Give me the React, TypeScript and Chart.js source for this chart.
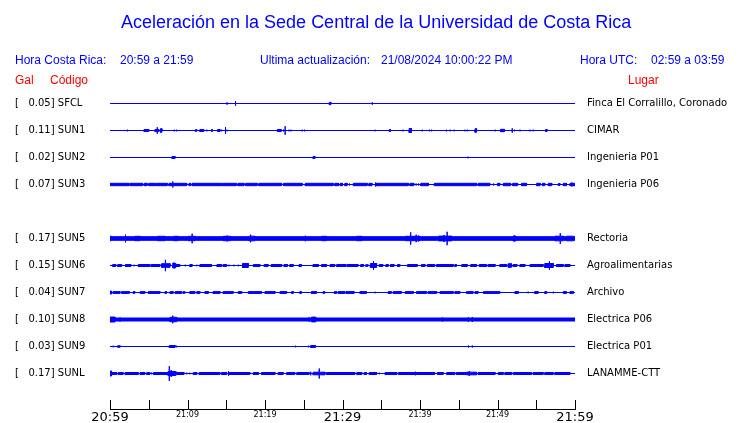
import React, { useEffect, useRef } from 'react';
import { Chart, registerables } from 'chart.js';

Chart.register(...registerables);

const TITLE = 'Aceleración en la Sede Central de la Universidad de Costa Rica';
const LOCAL_LABEL = 'Hora Costa Rica:';
const LOCAL_RANGE = '20:59 a 21:59';
const UPDATE_LABEL = 'Ultima actualización:';
const UPDATE_TIME = '21/08/2024 10:00:22 PM';
const UTC_LABEL = 'Hora UTC:';
const UTC_RANGE = '02:59 a 03:59';
const GAL_HEAD = 'Gal';
const CODE_HEAD = 'Código';
const PLACE_HEAD = 'Lugar';

const STATIONS = ['SFCL', 'SUN1', 'SUN2', 'SUN3', 'SUN4', 'SUN5', 'SUN6', 'SUN7', 'SUN8', 'SUN9', 'SUNL'];
const PLACES = ['Finca El Corralillo, Coronado', 'CIMAR', 'Ingenieria P01', 'Ingenieria P06', '', 'Rectoria', 'Agroalimentarias', 'Archivo', 'Electrica P06', 'Electrica P01', 'LANAMME-CTT'];
const PEAK_GAL: (number | null)[] = [0.05, 0.11, 0.02, 0.07, null, 0.17, 0.15, 0.04, 0.10, 0.03, 0.17];
// background noise half-amplitude of each trace (display counts)
const NOISE: (number | null)[] = [0, 0, 0, 0, null, 1.8, 0, 0, 1.5, 0, 0];

// minutes after 20:59
const TIME_TICKS = [0, 5, 10, 15, 20, 25, 30, 35, 40, 45, 50, 55, 60];
const TIME_LABELS = ['20:59', '', '21:09', '', '21:19', '', '21:29', '', '21:39', '', '21:49', '', '21:59'];
const MAJOR_TICKS = [0, 30, 60];

// bursts: [start minute, end minute, half amplitude]
const SFCL: number[][] = [[15.1, 15.1, 1.2], [16.2, 16.2, 2.2], [28.3, 28.5, 1.2], [33.85, 33.85, 1.2]];
const SUN1: number[][] = [[2.24, 2.24, 0.8], [4.4, 5.0, 1.0], [5.8, 6.3, 1.0], [6.1, 6.1, 3.3], [6.5, 6.7, 1.8], [8.3, 8.3, 0.8], [8.6, 8.6, 0.8], [9.8, 9.8, 0.5], [11.0, 11.2, 0.8], [11.6, 12.1, 1.0], [12.5, 12.5, 0.8], [13.1, 13.2, 1.0], [13.9, 14.2, 1.0], [14.4, 14.4, 0.8], [14.9, 14.9, 3.3], [15.1, 15.1, 0.8], [21.6, 22.1, 1.0], [22.4, 22.4, 1.0], [22.6, 22.6, 4.3], [23.1, 23.1, 0.8], [23.35, 23.35, 0.8], [24.8, 24.8, 0.8], [25.1, 25.1, 0.8], [26.6, 26.6, 0.5], [32.6, 32.6, 0.5], [33.1, 33.1, 0.5], [34.2, 34.2, 0.8], [36.05, 36.2, 1.0], [37.1, 37.1, 0.5], [37.8, 37.8, 0.8], [38.6, 38.9, 2.0], [40.3, 40.3, 0.8], [41.2, 41.2, 0.8], [41.5, 41.5, 0.8], [43.4, 43.4, 0.8], [43.9, 43.9, 0.8], [44.4, 44.4, 0.8], [45.8, 45.8, 0.8], [46.1, 46.1, 0.8], [47.1, 47.3, 1.8], [49.7, 49.7, 0.8], [50.4, 50.9, 1.2], [51.9, 51.9, 2.2], [52.2, 52.2, 0.8], [52.9, 52.9, 0.8], [54.2, 54.2, 0.8], [54.6, 54.6, 0.8], [56.2, 56.4, 1.0], [57.2, 57.2, 0.5]];
const SUN2: number[][] = [[0.4, 0.4, 0.5], [1.1, 1.1, 0.5], [8.0, 8.4, 1.0], [26.2, 26.45, 1.0], [46.2, 46.2, 0.8]];
const SUN3: number[][] = [[0, 2.45, 1.2], [2.6, 4.2, 1.2], [4.4, 4.8, 1.2], [5.0, 5.8, 1.2], [5.9, 7.4, 1.2], [7.6, 9.9, 1.2], [8.1, 8.1, 3.0], [10.2, 10.4, 1.2], [10.6, 14.4, 1.2], [14.5, 16.3, 1.2], [16.5, 17.3, 1.2], [17.5, 19.0, 1.2], [19.2, 22.15, 1.2], [22.4, 24.8, 1.2], [25.2, 28.8, 1.2], [29.0, 29.5, 1.2], [29.7, 30.0, 1.2], [30.3, 30.6, 1.2], [30.9, 30.9, 1.0], [31.4, 33.2, 1.2], [33.4, 33.8, 1.2], [34.2, 38.5, 1.2], [34.3, 34.3, 2.0], [38.7, 39.2, 1.2], [39.5, 39.5, 1.0], [39.8, 39.8, 1.0], [40.1, 41.1, 1.2], [41.85, 47.3, 1.2], [47.5, 49.0, 1.2], [49.5, 49.5, 1.0], [50.0, 50.3, 1.2], [50.75, 51.7, 1.2], [51.95, 52.6, 1.2], [53.1, 53.75, 1.2], [55.05, 55.5, 1.2], [55.8, 56.1, 1.2], [56.55, 57.0, 1.2], [57.85, 58.05, 1.0], [58.5, 58.9, 1.2], [59.35, 60, 1.2], [59.6, 59.6, 2.0]];
const SUN5: number[][] = [[0, 0.15, 2.3], [2.0, 2.0, 3.8], [3.2, 3.9, 2.2], [6.1, 7.1, 2.2], [8.2, 8.8, 2.2], [10.1, 11.0, 2.2], [10.6, 10.6, 4.8], [14.6, 15.6, 2.2], [15.1, 15.1, 3.0], [17.9, 18.7, 2.3], [18.15, 18.15, 3.8], [25.2, 25.2, 2.8], [27.3, 27.95, 2.2], [31.8, 32.5, 2.2], [38.1, 40.0, 2.2], [38.8, 38.8, 6.2], [39.5, 39.5, 3.8], [39.8, 39.8, 3.0], [42.4, 44.1, 2.4], [43.5, 43.5, 6.7], [43.1, 43.1, 3.5], [52.0, 52.4, 2.4], [52.2, 52.2, 3.0], [57.4, 58.5, 2.3], [58.1, 58.1, 5.3], [58.9, 59.8, 2.3]];
const SUN6: number[][] = [[0.35, 0.75, 1.0], [1.0, 1.5, 1.0], [2.0, 2.7, 1.0], [3.1, 3.1, 0.8], [3.65, 5.15, 1.0], [5.3, 6.45, 1.0], [6.65, 7.75, 1.8], [7.15, 7.15, 5.7], [8.1, 8.4, 2.5], [8.5, 9.0, 1.0], [9.7, 9.7, 0.8], [10.3, 10.6, 1.0], [11.2, 11.2, 0.8], [11.6, 13.1, 1.0], [13.8, 14.4, 1.0], [14.6, 15.05, 1.0], [15.35, 15.35, 0.8], [16.0, 16.0, 0.8], [16.55, 16.55, 0.8], [17.1, 17.85, 2.0], [18.5, 19.35, 1.0], [19.9, 20.4, 1.0], [20.8, 22.15, 1.0], [22.45, 22.9, 1.0], [23.2, 23.65, 1.0], [24.4, 24.7, 1.0], [26.2, 26.9, 1.0], [27.3, 27.95, 1.0], [28.4, 29.0, 1.0], [29.25, 30.45, 1.0], [30.6, 32.0, 1.0], [32.35, 32.7, 1.0], [33.0, 33.3, 0.8], [33.6, 34.4, 2.0], [34.0, 34.0, 4.3], [34.75, 35.2, 1.0], [35.6, 35.9, 1.0], [36.2, 36.65, 1.0], [37.1, 37.4, 1.0], [38.4, 39.65, 1.0], [40.2, 40.65, 1.0], [40.95, 41.9, 1.0], [42.15, 44.3, 1.0], [44.5, 44.7, 1.0], [45.4, 46.1, 1.0], [46.55, 47.3, 1.0], [47.65, 48.6, 1.0], [48.8, 49.7, 1.0], [50.3, 51.2, 1.0], [51.4, 51.8, 1.8], [52.0, 52.5, 1.0], [52.9, 53.55, 1.0], [54.2, 55.05, 1.0], [55.1, 55.9, 1.0], [56.1, 57.2, 2.0], [56.7, 56.7, 4.2], [57.6, 58.5, 1.0], [58.7, 59.35, 1.0]];
const SUN7: number[][] = [[0, 0.2, 1.5], [0.4, 1.3, 0.9], [1.5, 2.5, 0.9], [3.0, 3.2, 0.9], [3.9, 4.5, 0.9], [4.95, 6.45, 0.9], [7.1, 7.3, 0.9], [7.75, 8.15, 0.9], [8.4, 9.25, 0.9], [9.45, 9.65, 0.9], [10.3, 10.95, 0.9], [11.2, 11.6, 0.9], [12.25, 12.7, 0.9], [13.3, 14.2, 0.9], [14.6, 15.9, 0.9], [16.55, 17.0, 0.9], [17.85, 19.55, 0.9], [20.0, 21.3, 0.9], [21.95, 22.8, 0.9], [23.45, 23.65, 0.9], [24.5, 24.7, 0.9], [26.0, 26.65, 0.9], [27.5, 27.7, 0.9], [28.95, 29.25, 0.9], [29.45, 30.3, 0.9], [30.45, 31.5, 0.9], [32.25, 33.1, 0.9], [34.2, 34.2, 0.8], [35.9, 36.3, 0.9], [36.55, 37.6, 0.9], [38.1, 39.15, 0.9], [39.55, 40.85, 0.9], [41.05, 42.15, 0.9], [42.6, 44.3, 0.9], [44.5, 45.15, 0.9], [46.0, 46.85, 0.9], [47.1, 47.5, 0.9], [48.2, 50.3, 0.9], [52.25, 52.7, 0.9], [53.95, 53.95, 0.8], [54.8, 55.25, 0.9], [56.1, 56.35, 0.9], [57.2, 57.2, 0.8], [58.5, 58.9, 0.9], [59.35, 59.8, 0.9]];
const SUN8: number[][] = [[0, 0.65, 2.5], [1.3, 1.3, 2.0], [7.75, 8.6, 2.2], [8.1, 8.1, 3.8], [25.7, 25.7, 2.2], [26.0, 26.55, 2.4], [42.9, 42.9, 2.0], [46.25, 46.25, 2.5], [46.75, 46.75, 2.5]];
const SUN9: number[][] = [[0.4, 0.4, 0.8], [1.0, 1.3, 0.8], [2.2, 2.2, 0.5], [6.2, 6.2, 0.5], [7.65, 8.4, 1.0], [8.6, 8.6, 0.8], [14.85, 14.85, 0.5], [20.7, 20.7, 0.5], [23.95, 23.95, 0.8], [24.4, 24.4, 0.5], [25.6, 25.6, 0.8], [25.9, 26.5, 1.0], [46.25, 46.25, 1.0], [46.75, 46.75, 1.0], [47.2, 47.2, 0.5], [47.95, 47.95, 0.5]];
const SUNL: number[][] = [[0, 0.2, 2.5], [0.2, 0.85, 1.0], [1.05, 1.7, 1.0], [1.95, 3.65, 1.0], [3.9, 4.5, 1.0], [4.75, 5.15, 1.0], [5.35, 5.35, 0.8], [5.6, 7.5, 1.0], [7.5, 8.5, 2.0], [7.65, 7.65, 7.3], [7.9, 7.9, 3.5], [8.6, 9.55, 1.0], [9.9, 9.9, 0.8], [10.3, 10.3, 0.8], [10.75, 11.2, 1.0], [11.5, 14.2, 1.0], [14.4, 15.05, 1.0], [15.25, 18.05, 1.0], [15.3, 15.3, 2.2], [18.5, 19.15, 1.0], [19.55, 21.3, 1.0], [21.7, 22.35, 1.0], [22.8, 23.85, 1.0], [24.1, 25.7, 1.0], [25.9, 25.9, 1.8], [26.2, 27.75, 1.3], [27.0, 27.0, 5.0], [27.95, 31.6, 1.0], [31.85, 32.5, 1.0], [32.8, 33.1, 1.0], [33.45, 34.4, 1.0], [34.75, 34.75, 0.8], [35.5, 37.0, 1.0], [37.2, 39.35, 1.0], [39.4, 39.4, 1.8], [39.5, 41.9, 1.0], [42.25, 43.0, 1.0], [43.45, 44.5, 1.0], [44.7, 46.0, 1.0], [46.0, 47.3, 1.3], [46.35, 46.35, 2.5], [47.5, 49.7, 1.0], [50.1, 50.75, 1.0], [50.95, 51.85, 1.0], [52.05, 54.4, 1.0], [54.6, 55.9, 1.0], [56.1, 57.2, 1.0], [57.4, 59.35, 1.0]];

const EVENTS: (number[][] | null)[] = [SFCL, SUN1, SUN2, SUN3, null, SUN5, SUN6, SUN7, SUN8, SUN9, SUNL];

// layout constants
const ROW = 27;
const BLUE = '#0000ff';
const RED = '#ff0000';
const AXIS_FONT = "'DejaVu Sans', sans-serif";
const HEAD_FONT = "'Liberation Sans', Arial, sans-serif";

function envelope(segs: number[][], noise: number, t0: number, t1: number) {
  const xs = Array.from(new Set([t0, t1, ...segs.flatMap((s) => [s[0], s[1]])])).sort((a, b) => a - b);
  const val = (test: (s: number[]) => boolean) =>
    segs.reduce((m, s) => (test(s) ? Math.max(m, s[2]) : m), noise);
  const pts: { x: number; v: number }[] = [];
  xs.forEach((x) => {
    const L = val((s) => s[0] < x && x <= s[1]);
    const P = val((s) => s[0] <= x && x <= s[1]);
    const R = val((s) => s[0] <= x && x < s[1]);
    const vals = x === t0 ? [P, R] : x === t1 ? [L, P] : [L, P, R];
    vals.forEach((v) => {
      const last = pts[pts.length - 1];
      if (!last || last.x !== x || last.v !== v) pts.push({ x, v });
    });
  });
  return pts;
}

const upTicks = {
  id: 'upTicks',
  afterDraw(chart: any) {
    const s = chart.scales.x;
    const ctx = chart.ctx;
    const y = Math.round(chart.chartArea.bottom);
    ctx.save();
    ctx.strokeStyle = '#000';
    ctx.lineWidth = 1;
    ctx.beginPath();
    s.ticks.forEach((t: any) => {
      const px = Math.round(s.getPixelForValue(t.value)) + 0.5;
      ctx.moveTo(px, y);
      ctx.lineTo(px, y - 9);
    });
    ctx.stroke();
    ctx.restore();
  },
};

export default function App() {
  const ref = useRef<HTMLCanvasElement>(null);

  useEffect(() => {
    if (!ref.current) return;
    const datasets: any[] = [];
    EVENTS.forEach((segs, i) => {
      if (!segs) return;
      const pts = envelope(segs, NOISE[i] ?? 0, TIME_TICKS[0], TIME_TICKS[TIME_TICKS.length - 1]);
      const base = i * ROW;
      datasets.push({
        label: STATIONS[i],
        data: pts.map((p) => ({ x: p.x, y: base - p.v })),
        borderColor: BLUE,
        backgroundColor: BLUE,
        borderWidth: 1,
        pointRadius: 0,
        tension: 0,
        fill: false,
      });
      datasets.push({
        label: STATIONS[i] + ' low',
        data: pts.map((p) => ({ x: p.x, y: base + p.v })),
        borderColor: BLUE,
        backgroundColor: BLUE,
        borderWidth: 1,
        pointRadius: 0,
        tension: 0,
        fill: '-1',
      });
    });

    const rowTicks = (scale: any) => {
      scale.ticks = STATIONS.map((_, i) => ({ value: i * ROW }));
    };
    const yMin = -13.5;
    const yMax = yMin + 319;

    const chart = new Chart(ref.current, {
      type: 'line',
      data: { datasets },
      options: {
        animation: false,
        responsive: false,
        devicePixelRatio: 1,
        events: [],
        layout: { padding: { top: 90, left: 15, right: 0, bottom: 0 } },
        plugins: { legend: { display: false }, tooltip: { enabled: false }, title: { display: false } },
        scales: {
          x: {
            type: 'linear',
            min: TIME_TICKS[0],
            max: TIME_TICKS[TIME_TICKS.length - 1],
            afterBuildTicks: (scale: any) => {
              scale.ticks = TIME_TICKS.map((v) => ({ value: v }));
            },
            afterFit: (scale: any) => {
              scale.height = 14;
            },
            grid: { display: false, drawTicks: false },
            border: { display: true, color: '#000', width: 1 },
            ticks: {
              autoSkip: false,
              maxRotation: 0,
              padding: 1,
              color: '#000',
              font: (ctx: any) =>
                MAJOR_TICKS.includes(ctx.tick?.value)
                  ? { family: AXIS_FONT, size: 13 }
                  : { family: AXIS_FONT, size: 8 },
              callback: (v: any) => TIME_LABELS[TIME_TICKS.indexOf(Number(v))] ?? '',
            },
          },
          y: {
            type: 'linear',
            position: 'left',
            reverse: true,
            min: yMin,
            max: yMax,
            afterBuildTicks: rowTicks,
            afterFit: (scale: any) => {
              scale.width = 95;
              scale.paddingTop = 0;
              scale.paddingBottom = 0;
            },
            grid: { display: false, drawTicks: false },
            border: { display: false },
            ticks: {
              crossAlign: 'far',
              padding: 0,
              color: '#000',
              font: { family: AXIS_FONT, size: 10 },
              callback: (v: any) => {
                const i = Math.round(Number(v) / ROW);
                const g = PEAK_GAL[i];
                return g == null ? '' : `[   ${g.toFixed(2)}] ${STATIONS[i]}`;
              },
            },
          },
          yr: {
            type: 'linear',
            position: 'right',
            reverse: true,
            min: yMin,
            max: yMax,
            afterBuildTicks: rowTicks,
            afterFit: (scale: any) => {
              scale.width = 165;
              scale.paddingTop = 0;
              scale.paddingBottom = 0;
            },
            grid: { display: false, drawTicks: false },
            border: { display: false },
            ticks: {
              crossAlign: 'near',
              padding: 12,
              color: '#000',
              font: { family: AXIS_FONT, size: 10 },
              callback: (v: any) => PLACES[Math.round(Number(v) / ROW)] ?? '',
            },
          },
        },
      } as any,
      plugins: [upTicks],
    });
    return () => chart.destroy();
  }, []);

  const txt = (left: number, top: number, color: string, size = 12): React.CSSProperties => ({
    position: 'absolute',
    left,
    top,
    color,
    fontFamily: HEAD_FONT,
    fontSize: size,
    lineHeight: '14px',
    whiteSpace: 'pre',
  });

  return (
    <div style={{ position: 'absolute', left: 0, top: 0, width: 740, height: 423, background: '#fff' }}>
      <canvas ref={ref} width={740} height={423} style={{ position: 'absolute', left: 0, top: 0, width: 740, height: 423 }} />
      <div style={{ ...txt(121, 11, BLUE, 18), lineHeight: '22px' }}>{TITLE}</div>
      <div style={txt(15, 53, BLUE)}>{LOCAL_LABEL}</div>
      <div style={txt(120, 53, BLUE)}>{LOCAL_RANGE}</div>
      <div style={txt(260, 53, BLUE)}>{UPDATE_LABEL}</div>
      <div style={txt(381, 53, BLUE)}>{UPDATE_TIME}</div>
      <div style={txt(580, 53, BLUE)}>{UTC_LABEL}</div>
      <div style={txt(651, 53, BLUE)}>{UTC_RANGE}</div>
      <div style={txt(15, 73, RED)}>{GAL_HEAD}</div>
      <div style={txt(50, 73, RED)}>{CODE_HEAD}</div>
      <div style={txt(628, 73, RED)}>{PLACE_HEAD}</div>
    </div>
  );
}
